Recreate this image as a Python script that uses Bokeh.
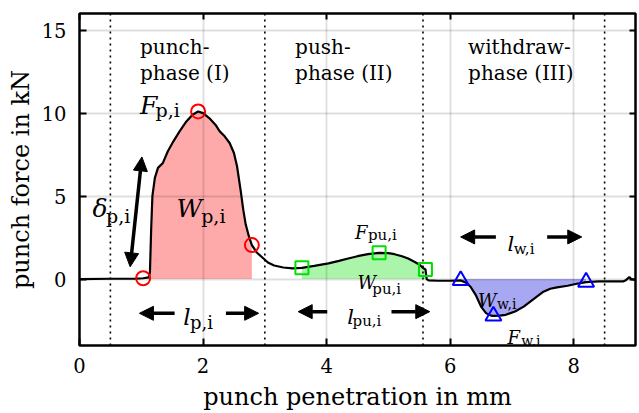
import numpy as np
from bokeh.plotting import figure
from bokeh.models import (Range1d, LinearAxis, SingleIntervalTicker, Span,
                          Arrow, NormalHead, Label)
from bokeh.embed import file_html
from bokeh.resources import INLINE

# measured punch force (kN) over punch penetration (mm)
penetration = [0.0, 0.5, 0.9, 1.03, 1.12, 1.14, 1.16, 1.18, 1.22, 1.27, 1.35,
               1.43, 1.52, 1.62, 1.73, 1.83, 1.92, 2.0, 2.10, 2.2, 2.27, 2.35,
               2.43, 2.5, 2.55, 2.61, 2.65, 2.69, 2.74, 2.79, 2.87, 2.96, 3.05,
               3.15, 3.3, 3.45, 3.60, 3.8, 4.03, 4.2, 4.35, 4.5, 4.67, 4.85,
               5.0, 5.1, 5.22, 5.32, 5.42, 5.5, 5.57, 5.60, 5.62, 5.65, 5.8,
               6.0, 6.17, 6.25, 6.33, 6.42, 6.5, 6.58, 6.66, 6.70, 6.8, 6.9,
               7.05, 7.19, 7.35, 7.51, 7.62, 7.73, 7.9, 8.05, 8.20, 8.4, 8.6,
               8.8, 8.85, 8.9, 8.93, 9.0]
force = [0.0, 0.02, 0.03, 0.05, 0.1, 0.4, 3.0, 5.0, 6.1, 6.7, 7.0,
         7.7, 8.3, 8.9, 9.5, 9.9, 10.1, 10.0, 9.7, 9.3, 8.9, 8.6,
         8.2, 7.6, 6.8, 5.3, 4.2, 3.3, 2.6, 2.05, 1.6, 1.3, 1.0,
         0.82, 0.7, 0.65, 0.68, 0.8, 0.95, 1.1, 1.24, 1.38, 1.5, 1.58,
         1.56, 1.5, 1.38, 1.24, 1.05, 0.88, 0.65, 0.58, 0.0, -0.08, -0.1,
         -0.1, -0.08, -0.2, -0.46, -1.0, -1.66, -2.05, -2.2, -2.22, -2.2, -2.15,
         -1.95, -1.66, -1.2, -0.76, -0.58, -0.5, -0.4, -0.28, -0.18, -0.14, -0.14,
         -0.14, -0.05, 0.12, 0.0, -0.05]

# phase boundaries
phase_bounds = [0.5, 3.0, 5.56, 8.5]

# characteristic points of each phase (start, extremum, end)
punch_x = [1.03, 1.92, 2.79]
punch_y = [0.05, 10.1, 2.05]
push_x = [3.60, 4.85, 5.60]
push_y = [0.68, 1.58, 0.58]
withdraw_x = [6.17, 6.70, 8.20]
withdraw_y = [-0.08, -2.22, -0.18]

x_ticks_interval = 2
y_ticks_interval = 5

SERIF = "DejaVu Serif"

pen = np.array(penetration)
frc = np.array(force)

p = figure(width=639, height=413, x_range=Range1d(0, 9), y_range=Range1d(-4, 16),
           output_backend="svg", toolbar_location=None,
           min_border_left=79, min_border_right=0, min_border_top=13,
           min_border_bottom=68)
p.background_fill_color = "white"
p.border_fill_color = "white"
p.outline_line_color = "black"
p.outline_line_width = 2.5

# axes
p.xaxis.ticker = SingleIntervalTicker(interval=x_ticks_interval)
p.yaxis.ticker = SingleIntervalTicker(interval=y_ticks_interval)
p.xgrid.ticker = SingleIntervalTicker(interval=x_ticks_interval)
p.ygrid.ticker = SingleIntervalTicker(interval=y_ticks_interval)
for ax in (p.xaxis[0], p.yaxis[0]):
    ax.axis_line_color = None
    ax.major_tick_in = 7
    ax.major_tick_out = 0
    ax.major_tick_line_width = 2
    ax.minor_tick_line_color = None
    ax.major_label_text_font = SERIF
    ax.major_label_text_font_size = "19.5px"
    ax.major_label_text_color = "black"
    ax.axis_label_text_font = SERIF
    ax.axis_label_text_font_style = "normal"
    ax.axis_label_text_font_size = "24px"
    ax.axis_label_text_color = "black"
p.xaxis.axis_label = "punch penetration in mm"
p.yaxis.axis_label = "punch force in kN"
p.xaxis.major_label_standoff = 8
p.xaxis.axis_label_standoff = 7
p.yaxis.major_label_standoff = 9
p.yaxis.axis_label_standoff = 4

# mirrored ticks on top and right (no labels)
for ticker_int, side in ((x_ticks_interval, "above"), (y_ticks_interval, "right")):
    ax = LinearAxis(ticker=SingleIntervalTicker(interval=ticker_int),
                    major_label_text_font_size="1px", major_label_text_alpha=0,
                    major_label_standoff=0,
                    major_tick_in=6, major_tick_out=0, major_tick_line_width=2,
                    minor_tick_line_color=None, axis_line_color=None)
    p.add_layout(ax, side)

for g in (p.xgrid[0], p.ygrid[0]):
    g.grid_line_color = "black"
    g.grid_line_alpha = 0.13
    g.grid_line_width = 1.8
    g.level = "annotation"

# shaded work areas
def region(xa, xb):
    m = (pen >= xa) & (pen <= xb)
    return pen[m], frc[m]

for xs_pts, col in ((punch_x, "#ffaaaa"), (push_x, "#aaf5aa"), (withdraw_x, "#a8a8f2")):
    rx, ry = region(xs_pts[0], xs_pts[-1])
    p.varea(x=rx, y1=np.zeros_like(ry), y2=ry, fill_color=col)

# phase boundaries
for b in phase_bounds:
    p.add_layout(Span(location=b, dimension="height", line_color="black",
                      line_width=1.6, line_dash="2 4"))

p.line(penetration, force, line_color="black", line_width=2.2)

p.scatter(punch_x, punch_y, marker="circle", size=14, fill_color=None,
          line_color="red", line_width=2)
p.scatter(push_x, push_y, marker="square", size=13, fill_color=None,
          line_color="#00e000", line_width=2)
p.scatter(withdraw_x, withdraw_y, marker="triangle", size=16, fill_color=None,
          line_color="blue", line_width=2)

# arrows
def arrow(x0, y0, x1, y1, both=False):
    head = dict(size=14, fill_color="black", line_color="black", line_width=1)
    p.add_layout(Arrow(x_start=x0, y_start=y0, x_end=x1, y_end=y1,
                       line_width=3.5, line_color="black",
                       end=NormalHead(**head),
                       start=NormalHead(**head) if both else None))

arrow(0.82, 0.74, 1.01, 7.36, both=True)
arrow(1.54, -2.06, 0.97, -2.06)
arrow(2.37, -2.06, 2.90, -2.06)
arrow(4.01, -1.96, 3.54, -1.96)
arrow(5.05, -1.96, 5.67, -1.96)
arrow(6.74, 2.54, 6.17, 2.54)
arrow(7.57, 2.54, 8.13, 2.54)

# text helper
def text(x, y, s, size=20, style="normal"):
    p.add_layout(Label(x=x, y=y, text=s, text_font=SERIF, text_font_size=f"{size}px",
                       text_font_style=style, text_color="black",
                       text_baseline="alphabetic", text_align="left"))

# phase titles
text(0.98, 13.97, "punch-")
text(0.98, 12.40, "phase (I)")
text(3.49, 13.97, "push-")
text(3.49, 12.40, "phase (II)")
text(6.29, 13.97, "withdraw-")
text(6.29, 12.40, "phase (III)")

# symbols with subscripts
def sym(x, y, main, xs, ys, sub, size, subsize):
    text(x, y, main, size=size, style="italic")
    text(xs, ys, sub, size=subsize)

sym(0.98, 10.46, "F", 1.23, 10.16, "p,i", 25, 19)
sym(1.57, 4.23, "W", 1.97, 3.83, "p,i", 25, 19)
sym(0.21, 4.25, "δ", 0.43, 3.83, "p,i", 25, 19)
sym(1.68, -2.30, "l", 1.79, -2.60, "p,i", 23, 18)
sym(4.46, 2.83, "F", 4.67, 2.63, "pu,i", 18, 15)
sym(4.50, -0.19, "W", 4.74, -0.57, "pu,i", 18, 15)
sym(4.335, -2.30, "l", 4.42, -2.55, "pu,i", 21, 15)
sym(6.45, -1.29, "W", 6.76, -1.47, "w,i", 18, 14)
sym(6.93, -3.50, "F", 7.15, -3.70, "w,i", 18, 14)
sym(6.93, 2.14, "l", 7.03, 1.84, "w,i", 21, 15)

open("out.html", "w").write(file_html(p, INLINE))
